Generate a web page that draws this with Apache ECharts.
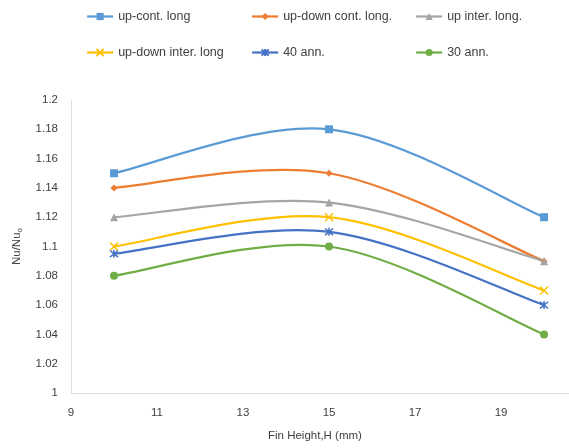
<!DOCTYPE html>
<html>
<head>
<meta charset="utf-8">
<script src="https://cdn.jsdelivr.net/npm/echarts@6/dist/echarts.min.js"></script>
<style>html,body{margin:0;padding:0;background:#fff}#c{width:569px;height:448px}</style>
</head>
<body>
<div id="c"></div>
<script>
// Fin heights (mm)
const finHeight = [10, 15, 20];
// Nu/Nu0 for each configuration
const upContLong = [1.15, 1.18, 1.12];
const upDownContLong = [1.14, 1.15, 1.09];
const upInterLong = [1.12, 1.13, 1.09];
const upDownInterLong = [1.10, 1.12, 1.07];
const ann40 = [1.095, 1.11, 1.06];
const ann30 = [1.08, 1.10, 1.04];
const xTicks = [9, 11, 13, 15, 17, 19];
const yTicks = [1, 1.02, 1.04, 1.06, 1.08, 1.1, 1.12, 1.14, 1.16, 1.18, 1.2];

const FONT = 'Liberation Sans';
const pts = vals => finHeight.map((h, i) => [h, vals[i]]);

const xMark = 'path://M0,0L10,10M10,0L0,10';
const starMark = 'path://M0,0L10,10M10,0L0,10M5,-1L5,11';

const seriesDefs = [
  { name: 'up-cont. long', data: upContLong, color: '#5B9BD5', symbol: 'rect', size: 8 },
  { name: 'up-down cont. long.', data: upDownContLong, color: '#ED7D31', symbol: 'diamond', size: 7 },
  { name: 'up inter. long.', data: upInterLong, color: '#A5A5A5', symbol: 'triangle', size: 8 },
  { name: 'up-down inter. long', data: upDownInterLong, color: '#FFC000', symbol: xMark, size: 8, stroke: true },
  { name: '40 ann.', data: ann40, color: '#4472C4', symbol: starMark, size: 8, stroke: true },
  { name: '30 ann.', data: ann30, color: '#70AD47', symbol: 'circle', size: 8 }
];

const legendPos = [
  [86, 10], [251, 10], [415, 10],
  [86, 46], [251, 46], [415, 46]
];

const LINE_W = 2.25;

// Cardinal (Catmull-Rom) spline through the projected points, end points doubled
function splinePath(P) {
  let d = 'M' + P[0][0] + ',' + P[0][1];
  for (let i = 0; i < P.length - 1; i++) {
    const p0 = P[Math.max(i - 1, 0)], p1 = P[i], p2 = P[i + 1], p3 = P[Math.min(i + 2, P.length - 1)];
    const c1 = [p1[0] + (p2[0] - p0[0]) / 6, p1[1] + (p2[1] - p0[1]) / 6];
    const c2 = [p2[0] - (p3[0] - p1[0]) / 6, p2[1] - (p3[1] - p1[1]) / 6];
    d += 'C' + c1[0] + ',' + c1[1] + ' ' + c2[0] + ',' + c2[1] + ' ' + p2[0] + ',' + p2[1];
  }
  return d;
}

const curveSeries = seriesDefs.map(s => ({
  name: s.name,
  type: 'custom',
  data: pts(s.data),
  silent: true,
  z: 1,
  renderItem: (params, api) => {
    if (params.dataIndex !== 0) return null;
    const P = s.data.map((v, i) => api.coord([finHeight[i], v]));
    return {
      type: 'path',
      shape: { pathData: splinePath(P) },
      style: { stroke: s.color, lineWidth: LINE_W, fill: 'none', lineCap: 'round', lineJoin: 'round' }
    };
  }
}));

const markerSeries = seriesDefs.map(s => ({
  name: s.name,
  type: 'line',
  data: pts(s.data),
  z: 2,
  symbol: s.symbol,
  symbolSize: s.size,
  showAllSymbol: true,
  lineStyle: { color: s.color, width: LINE_W, opacity: 0 },
  itemStyle: s.stroke
    ? { color: s.color, borderColor: s.color, borderWidth: 1.5 }
    : { color: s.color, borderWidth: 0 }
}));

const chart = echarts.init(document.getElementById('c'), null, { renderer: 'canvas' });
chart.setOption({
  animation: false,
  backgroundColor: '#fff',
  // the axis runs on past the right edge of the canvas
  grid: { left: 71, top: 100, right: 0, bottom: 55, containLabel: false },
  legend: seriesDefs.map((s, i) => ({
    data: [{ name: s.name, lineStyle: { color: s.color, width: LINE_W, opacity: 1 } }],
    left: legendPos[i][0],
    top: legendPos[i][1],
    padding: 0,
    itemWidth: 26,
    itemHeight: 9,
    textStyle: { fontFamily: FONT, fontSize: 12.5, color: '#404040' }
  })),
  xAxis: {
    type: 'value',
    min: 9, max: 20.58, interval: 2,
    axisLine: { lineStyle: { color: '#D9DEE8', width: 1 } },
    axisTick: { show: false },
    splitLine: { show: false },
    axisLabel: { fontFamily: FONT, fontSize: 11.5, color: '#404040', margin: 14,
      showMaxLabel: false,
      formatter: v => xTicks.includes(v) ? String(v) : '' }
  },
  yAxis: {
    type: 'value',
    min: 1, max: 1.2, interval: 0.02,
    name: 'Nu/Nu{s|o}',
    nameLocation: 'middle',
    nameGap: 47,
    nameRotate: 90,
    nameTextStyle: {
      fontFamily: FONT, fontSize: 11.5, color: '#404040',
      rich: { s: { fontFamily: FONT, fontSize: 8, color: '#404040', verticalAlign: 'bottom', padding: [6, 0, 0, 0] } }
    },
    axisLine: { show: true, lineStyle: { color: '#D9DEE8', width: 1 } },
    axisTick: { show: false },
    splitLine: { show: false },
    axisLabel: { fontFamily: FONT, fontSize: 11.5, color: '#404040', margin: 13,
      formatter: v => {
        const t = yTicks.find(y => Math.abs(y - v) < 1e-9);
        return t === undefined ? '' : String(t);
      } }
  },
  graphic: [{
    type: 'text',
    left: 268, top: 430,
    style: { text: 'Fin Height,H (mm)', fontFamily: FONT, fontSize: 11.5, fill: '#404040' }
  }],
  series: markerSeries.concat(curveSeries)
});
</script>
</body>
</html>
